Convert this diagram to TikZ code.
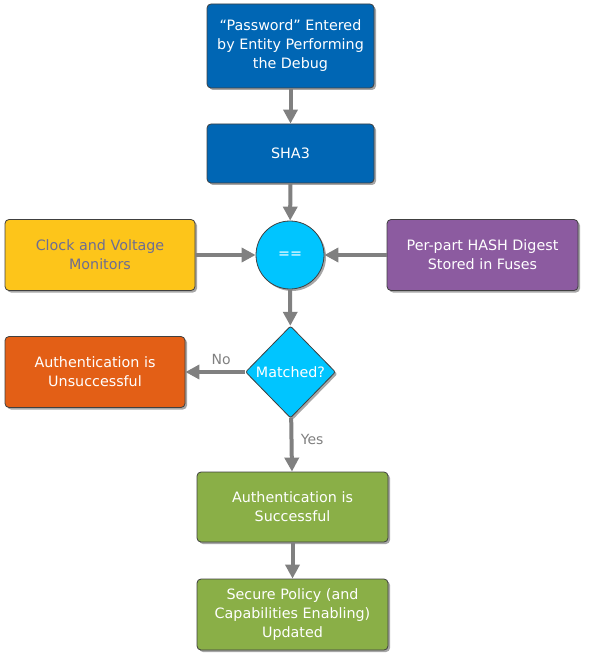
\documentclass[tikz,border=0pt]{standalone}
\usepackage{fontspec}
\setmainfont{DejaVu Sans}
\usetikzlibrary{shapes.geometric,shadows,arrows.meta}
\definecolor{pwblue}{RGB}{0,102,180}
\definecolor{eqcyan}{RGB}{0,197,255}
\definecolor{clkyellow}{RGB}{253,197,26}
\definecolor{fusepurple}{RGB}{140,91,160}
\definecolor{failorange}{RGB}{227,95,22}
\definecolor{okgreen}{RGB}{138,175,71}
\definecolor{flowgray}{RGB}{128,128,128}
\tikzset{
every picture/.style={
line width=0.8pt
},
stepbox/.style={draw=black!75, rounded corners=4pt, align=center, text=white,
  font=\fontsize{14.3pt}{19pt}\selectfont, inner sep=2pt,
  drop shadow={shadow xshift=2pt, shadow yshift=-2pt, opacity=0.35, fill=black}},
flow/.style={draw=flowgray, line width=4pt, -{Triangle[length=14pt, width=14pt]}},
lbl/.style={text=flowgray, font=\fontsize{14pt}{16pt}\selectfont}
}

\begin{document}
\begin{tikzpicture}[x=1pt, y=-1pt]
\useasboundingbox (0,0) rectangle (588,660);

\node[stepbox, fill=pwblue, minimum width=167pt, minimum height=84pt] (pwd) at (290.5,46)
  {``Password'' Entered\\by Entity Performing\\the Debug};
\node[stepbox, fill=pwblue, minimum width=167pt, minimum height=59pt] (sha) at (290.5,153.5) {SHA3};
\node[stepbox, fill=eqcyan, circle, rounded corners=0pt, minimum size=68pt] (cmp) at (290,255) {==};
\node[stepbox, fill=clkyellow, text=flowgray!85!blue, minimum width=190pt, minimum height=71pt] (clk) at (100,255)
  {Clock and Voltage\\Monitors};
\node[stepbox, fill=fusepurple, minimum width=191pt, minimum height=71pt] (fuse) at (482.5,255)
  {Per-part HASH Digest\\Stored in Fuses};
\node[stepbox, fill=eqcyan, diamond, rounded corners=2pt, inner sep=0pt, minimum width=90pt, minimum height=92pt] (match) at (290.5,372) {Matched?};
\node[stepbox, fill=failorange, minimum width=180pt, minimum height=71pt] (fail) at (95,372)
  {Authentication is\\Unsuccessful};
\node[stepbox, fill=okgreen, minimum width=191pt, minimum height=70pt] (ok) at (292.5,507)
  {Authentication is\\Successful};
\node[stepbox, fill=okgreen, minimum width=191pt, minimum height=71pt] (pol) at (292.5,614.5)
  {Secure Policy (and\\Capabilities Enabling)\\Updated};

\foreach \a/\b in {pwd/sha, sha/cmp, clk/cmp, fuse/cmp, cmp/match, ok/pol}{
  \draw[flow] (\a) -- (\b);
}
\draw[flow] (match) -- node[lbl, above=2pt, pos=0.4] (no) {No} (fail);
\draw[flow] (match) -- node[lbl, right=4pt, pos=0.4] (yes) {Yes} (ok);
\end{tikzpicture}
\end{document}
